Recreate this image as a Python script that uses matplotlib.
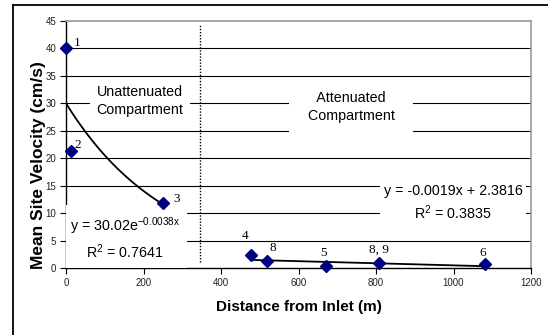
import matplotlib
matplotlib.use("Agg")
import matplotlib.pyplot as plt
import numpy as np
from matplotlib.lines import Line2D

plt.rcParams["mathtext.fontset"] = "custom"
plt.rcParams["mathtext.rm"] = "Liberation Sans"
plt.rcParams["mathtext.it"] = "Liberation Sans:italic"
plt.rcParams["mathtext.bf"] = "Liberation Sans:bold"

# Data
distance = [0, 13, 250, 478, 519, 671, 808, 1081]
velocity = [40.0, 21.3, 11.8, 2.3, 1.3, 0.35, 0.95, 0.8]
site_labels = ["1", "2", "3", "4", "8", "5", "8, 9", "6"]
label_offsets_px = [(11, 5), (7, 6), (14, 4), (-6, 19), (6, 13), (-3, 13), (0, 13), (-2, 11)]

exp_a, exp_b = 30.02, -0.0038
lin_m, lin_c = -0.0019, 2.3816
exp_range = (0, 250)
lin_range = (478, 1081)
divider_x = 346
divider_y = (1.1, 44.3)

xticks = [0, 200, 400, 600, 800, 1000, 1200]
yticks = [0, 5, 10, 15, 20, 25, 30, 35, 40, 45]

SANS = ["Liberation Sans", "DejaVu Sans"]
SERIF = ["Liberation Serif", "DejaVu Serif"]

fig = plt.figure(figsize=(5.48, 3.35), dpi=100)
ax = fig.add_axes([66/548, 1 - 268/335, (531-66)/548, (268-21)/335])

# outer frame (left and top visible)
fig.add_artist(Line2D([13/548, 13/548], [0, 1 - 5/335], transform=fig.transFigure, color="black", lw=1.3))
fig.add_artist(Line2D([13/548, 1], [1 - 5/335, 1 - 5/335], transform=fig.transFigure, color="black", lw=1.3))

ax.set_xlim(0, 1200)
ax.set_ylim(0, 45)
ax.set_xticks(xticks)
ax.set_yticks(yticks)
ax.set_axisbelow(True)
for y in yticks[1:-1]:
    ax.axhline(y, color="black", lw=0.8, zorder=0.5)

for s in ["top", "right"]:
    ax.spines[s].set_color("#999999")
    ax.spines[s].set_linewidth(1.2)
for s in ["left", "bottom"]:
    ax.spines[s].set_color("black")
    ax.spines[s].set_linewidth(1.0)

ax.tick_params(direction="out", length=4, width=0.8, labelsize=7, pad=3, colors="black")
for lbl in ax.get_xticklabels() + ax.get_yticklabels():
    lbl.set_family(SANS)
    lbl.set_color("#222222")

# Trendlines
xe = np.linspace(*exp_range, 100)
ax.plot(xe, exp_a * np.exp(exp_b * xe), color="black", lw=1.3, zorder=3)
xl = np.array(lin_range)
ax.plot(xl, lin_m * xl + lin_c, color="black", lw=1.3, zorder=3)

# Divider
ax.plot([divider_x, divider_x], divider_y, color="black", lw=1.0, ls=(0, (1, 1.2)), zorder=4.5)

# Points
ax.plot(distance, velocity, ls="none", marker="D", markersize=6, color="#000080", zorder=5, clip_on=False)
for x, y, t, (dx, dy) in zip(distance, velocity, site_labels, label_offsets_px):
    ax.annotate(t, (x, y), xytext=(dx * 0.72, dy * 0.72), textcoords="offset points",
                ha="center", va="center", fontsize=9.5, family=SERIF, zorder=6)

def px2data(px, py):
    return ((px - 66) / 465) * 1200, (268 - py) / 247 * 45

fs = 10.3
x0, y0 = px2data(140, 101)
ax.text(x0, y0, "Unattenuated\nCompartment", ha="center", va="center", fontsize=fs,
        family=SANS, linespacing=1.3, clip_on=True,
        bbox=dict(facecolor="white", edgecolor="none", pad=5), zorder=4)
x0, y0 = px2data(351, 107)
ax.text(x0, y0, "  Attenuated  \n  Compartment  ", ha="center", va="center", fontsize=fs,
        family=SANS, linespacing=1.3, clip_on=True,
        bbox=dict(facecolor="white", edgecolor="none", pad=7.5), zorder=4)
x0, y0 = px2data(125, 238)
ax.text(x0, y0, "y = 30.02e$^{\\mathregular{-0.0038x}}$\nR$^{\\mathregular{2}}$ = 0.7641",
        ha="center", va="center", fontsize=fs, family=SANS, linespacing=1.35, clip_on=True,
        bbox=dict(facecolor="white", edgecolor="none", pad=5), zorder=4)
x0, y0 = px2data(453, 203)
ax.text(x0, y0, "y = -0.0019x + 2.3816\nR$^{\\mathregular{2}}$ = 0.3835",
        ha="center", va="center", fontsize=fs, family=SANS, linespacing=1.35, clip_on=True,
        bbox=dict(facecolor="white", edgecolor="none", pad=2.5), zorder=4)

ax.set_xlabel("Distance from Inlet (m)", fontsize=11, fontweight="bold", family=SANS, labelpad=9)
ax.set_ylabel("Mean Site Velocity (cm/s)", fontsize=12.5, fontweight="bold", family=SANS)
ax.yaxis.set_label_coords((46 - 66) / 465, (268 - 165) / 247)

fig.savefig("out.png", dpi=100)
